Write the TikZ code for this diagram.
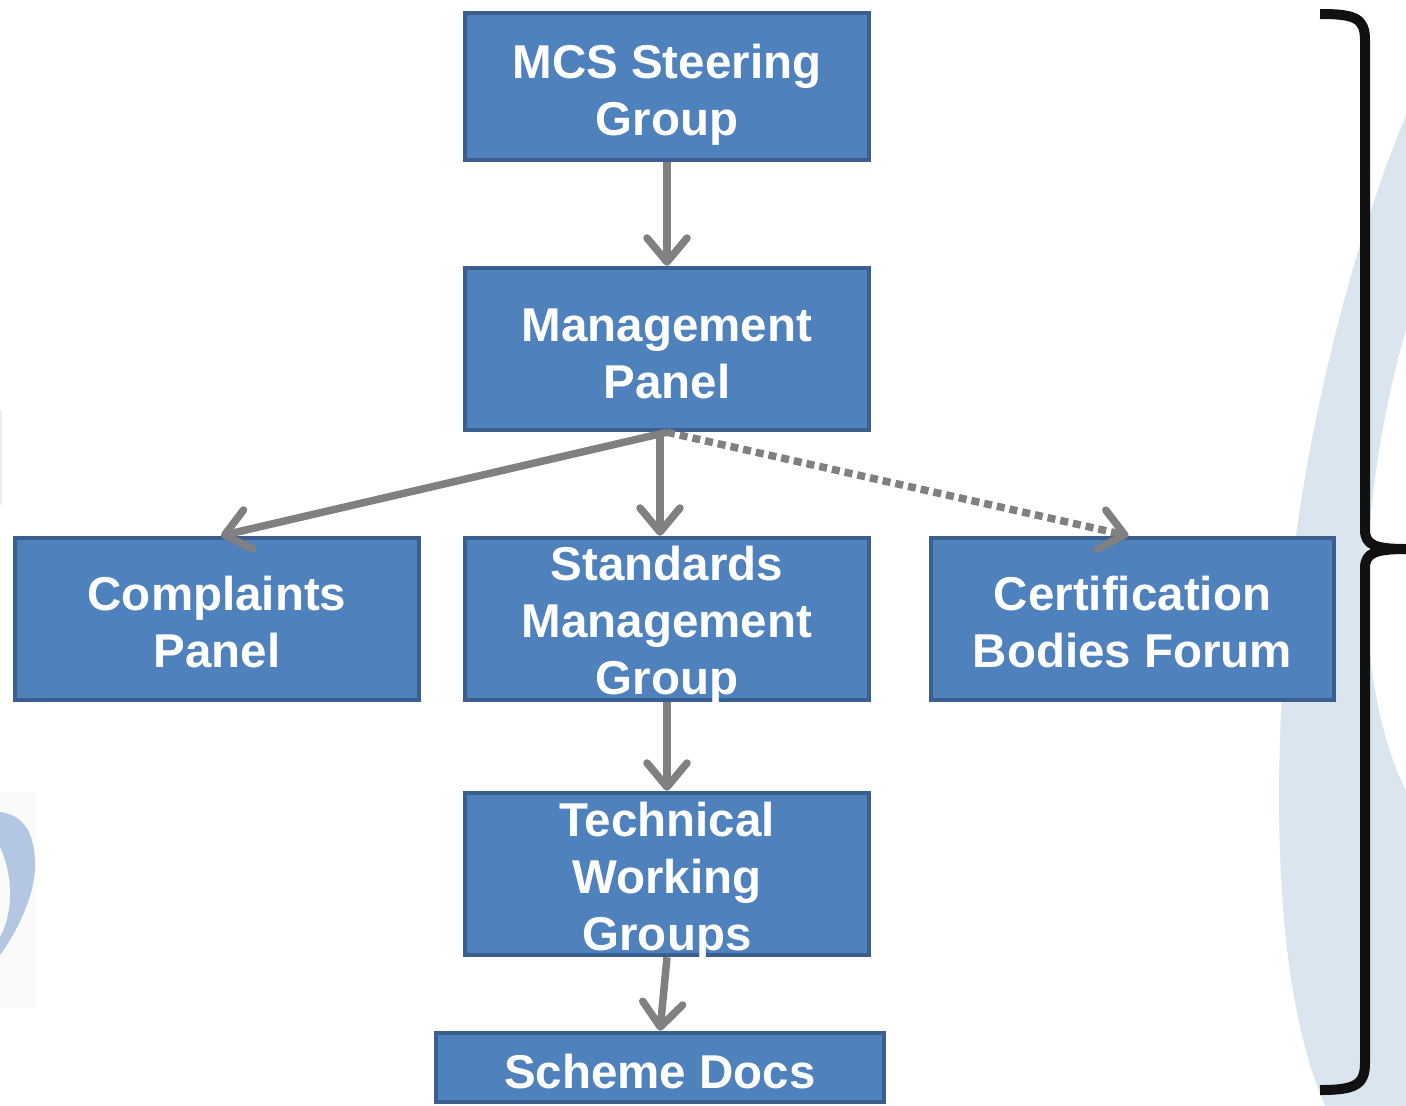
\documentclass[tikz,border=0pt]{standalone}
\usepackage{fontspec}
\setmainfont{Liberation Sans}
\usetikzlibrary{arrows.meta,calc}
\definecolor{boxblue}{HTML}{4F81BD}
\definecolor{boxline}{HTML}{3A5F8E}
\definecolor{arrgray}{HTML}{808080}
\definecolor{bgshade}{HTML}{DAE5EF}
\definecolor{logoblue}{HTML}{B4C7E2}
\definecolor{logobg}{HTML}{FAFAFA}
\definecolor{bracecol}{HTML}{111111}
\begin{document}
\begin{tikzpicture}[x=1pt,y=-1pt,
  orgbox/.style={draw=boxline, line width=4.5pt, fill=boxblue, rectangle, inner sep=0pt},
  lbl/.style={text=white, font=\fontsize{47.5}{57}\selectfont\bfseries, align=center, anchor=base, inner sep=0pt},
  link/.style={draw=arrgray, line width=7.5pt, -{Straight Barb[length=24pt,width=40pt,line cap=round,line join=round]}},
  dotlink/.style={link, dash pattern=on 8pt off 5pt}
]
\clip (0,0) rectangle (1406,1106);
\fill[white] (0,0) rectangle (1406,1106);
% background shading on the right
\fill[bgshade] (1406,115) .. controls (1350,250) and (1300,450) .. (1287,620)
  .. controls (1272,800) and (1275,990) .. (1325,1106) -- (1406,1106) -- cycle;
\fill[white] (1406,330) .. controls (1380,420) and (1366,520) .. (1367,600)
  .. controls (1368,680) and (1385,750) .. (1406,790) -- cycle;
% logo fragment on the left
\fill[logobg] (0,792) rectangle (36,1008);
\fill[logoblue] (0,812) .. controls (25,815) and (36,835) .. (35,870)
  .. controls (33,900) and (15,935) .. (0,955) -- (0,937)
  .. controls (12,915) and (15,880) .. (0,847) -- cycle;
\draw[black!7, line width=1.5pt] (1,410) -- (1,505);
% brace
\draw[bracecol, line width=10pt, line join=round]
  (1320,14) .. controls (1355,14) and (1365,18) .. (1365,40) -- (1365,530)
  .. controls (1365,545) and (1375,549) .. (1406,549);
\draw[bracecol, line width=10pt, line join=round]
  (1406,549) .. controls (1375,549) and (1365,553) .. (1365,568) -- (1365,1063)
  .. controls (1365,1085) and (1355,1090) .. (1320,1090);
% boxes
\node[orgbox, minimum width=404pt, minimum height=147pt] (steer) at (667,86.5) {};
\node[orgbox, minimum width=404pt, minimum height=162pt] (mgmt) at (667,349) {};
\node[orgbox, minimum width=404pt, minimum height=162pt] (compl) at (217,619) {};
\node[orgbox, minimum width=404pt, minimum height=162pt] (std) at (667,619) {};
\node[orgbox, minimum width=403pt, minimum height=162pt] (cbf) at (1132.5,619) {};
\node[orgbox, minimum width=404pt, minimum height=162pt] (tech) at (667,874) {};
\node[orgbox, minimum width=448pt, minimum height=69pt] (docs) at (660,1067.5) {};
% labels (base anchor = baseline of last line)
\node[lbl] (steerT) at (667,135) {MCS Steering\\Group};
\node[lbl] (mgmtT) at (667,398) {Management\\Panel};
\node[lbl] (complT) at (217,667) {Complaints\\Panel};
\node[lbl] (stdT) at (667,694) {Standards\\Management\\Group};
\node[lbl] (cbfT) at (1132.5,667) {Certification\\Bodies Forum};
\node[lbl] (techT) at (667,950) {Technical\\Working\\Groups};
\node[lbl] (docsT) at (660,1088) {Scheme Docs};
% connectors
\draw[link] (steer.south) -- (mgmt.north);
\draw[link] (mgmt.south) -- ([xshift=4pt]compl.north);
\draw[link] ([xshift=-7pt]mgmt.south) -- ([xshift=-7pt]std.north);
\draw[dotlink] (mgmt.south) -- ([xshift=-4pt]cbf.north);
\draw[link] (std.south) -- (tech.north);
\draw[link] (tech.south) -- (docs.north);
\end{tikzpicture}
\end{document}
